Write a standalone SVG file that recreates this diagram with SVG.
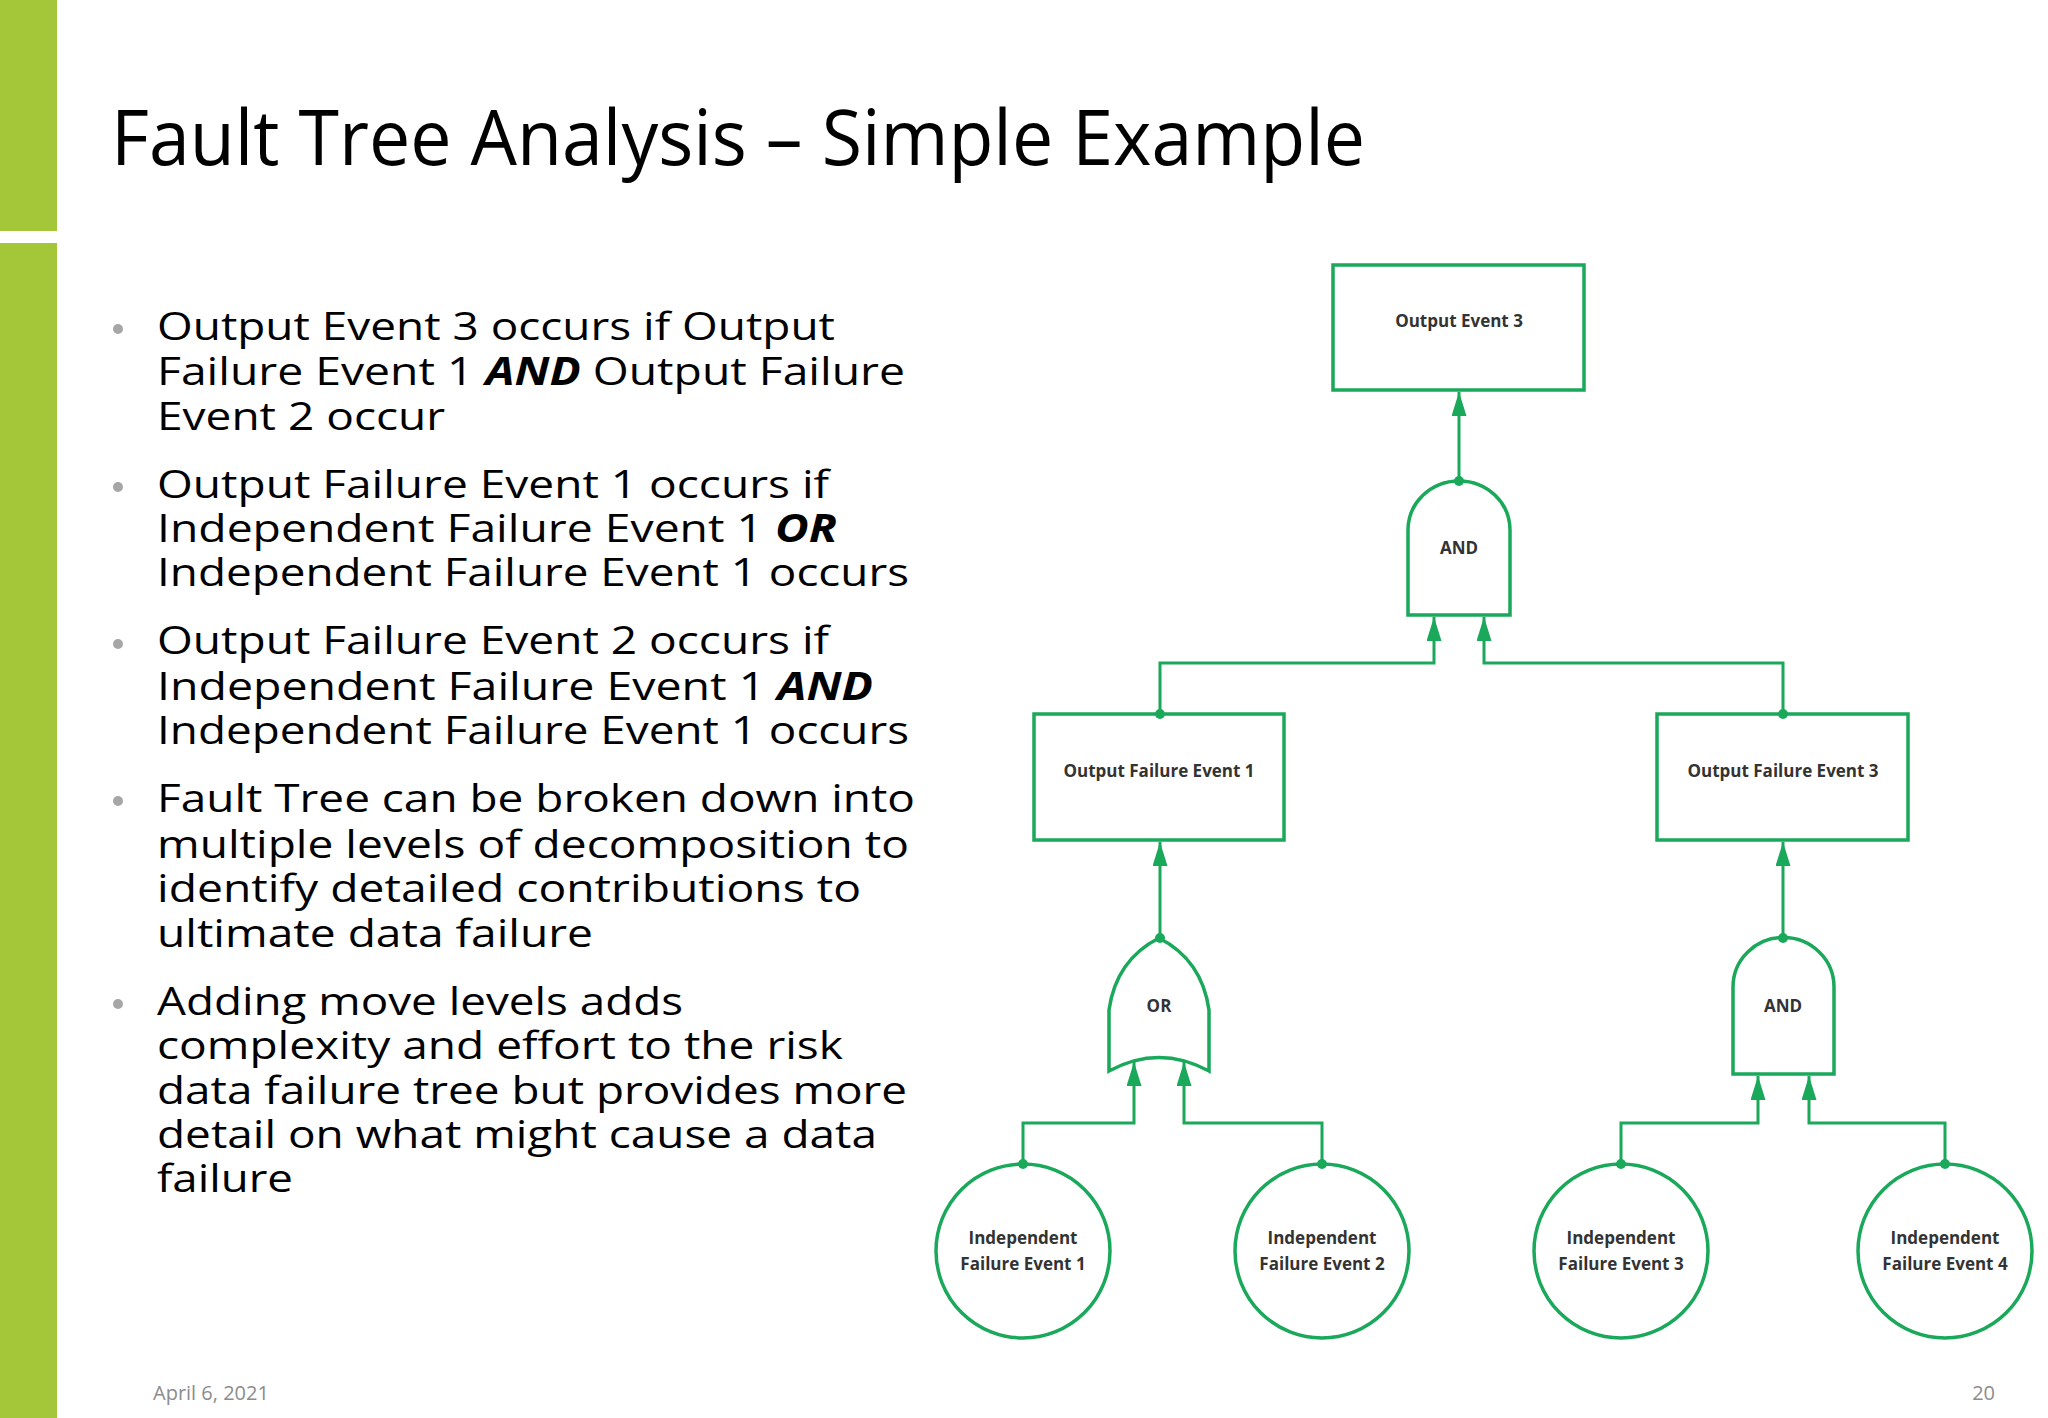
<svg xmlns="http://www.w3.org/2000/svg" width="2048" height="1418" viewBox="0 0 2048 1418">
<defs>
<style>
.b{font-family:"Open Sans","Liberation Sans",sans-serif;font-size:39px;fill:#000}
.bi{font-weight:bold;font-style:italic}
.n{font-family:"Open Sans","Liberation Sans",sans-serif;font-size:17px;font-weight:bold;fill:#333;text-anchor:middle}
.s{fill:#fff;stroke:#1aa85a;stroke-width:3.5}
.c{fill:none;stroke:#1aa85a;stroke-width:3}
.d{fill:#1aa85a}
</style>
<marker id="ah" viewBox="0 0 10 10" refX="10" refY="5" markerWidth="24" markerHeight="15" markerUnits="userSpaceOnUse" orient="auto" preserveAspectRatio="none"><path d="M0,0L10,5L0,10z" fill="#1aa85a"/></marker>
</defs>
<rect width="2048" height="1418" fill="#fff"/>
<rect x="0" y="0" width="57" height="231" fill="#a4c639"/>
<rect x="0" y="243" width="57" height="1175" fill="#a4c639"/>
<text x="111" y="165" font-family="Open Sans,Liberation Sans,sans-serif" font-size="76" textLength="1254" lengthAdjust="spacingAndGlyphs">Fault Tree Analysis – Simple Example</text>
<g fill="#a6a6a6"><circle cx="118" cy="329" r="5"/><circle cx="118" cy="487" r="5"/><circle cx="118" cy="644" r="5"/><circle cx="118" cy="801" r="5"/><circle cx="118" cy="1004" r="5"/></g>
<g class="b">
<text x="157" y="340" textLength="678" lengthAdjust="spacingAndGlyphs">Output Event 3 occurs if Output</text>
<text x="157" y="385" textLength="748" lengthAdjust="spacingAndGlyphs">Failure Event 1 <tspan class="bi">AND</tspan> Output Failure</text>
<text x="157" y="430" textLength="288" lengthAdjust="spacingAndGlyphs">Event 2 occur</text>
<text x="157" y="498" textLength="672" lengthAdjust="spacingAndGlyphs">Output Failure Event 1 occurs if</text>
<text x="157" y="542" textLength="680" lengthAdjust="spacingAndGlyphs">Independent Failure Event 1 <tspan class="bi">OR</tspan></text>
<text x="157" y="586" textLength="752" lengthAdjust="spacingAndGlyphs">Independent Failure Event 1 occurs</text>
<text x="157" y="654" textLength="672" lengthAdjust="spacingAndGlyphs">Output Failure Event 2 occurs if</text>
<text x="157" y="700" textLength="716" lengthAdjust="spacingAndGlyphs">Independent Failure Event 1 <tspan class="bi">AND</tspan></text>
<text x="157" y="744" textLength="752" lengthAdjust="spacingAndGlyphs">Independent Failure Event 1 occurs</text>
<text x="157" y="812" textLength="758" lengthAdjust="spacingAndGlyphs">Fault Tree can be broken down into</text>
<text x="157" y="858" textLength="752" lengthAdjust="spacingAndGlyphs">multiple levels of decomposition to</text>
<text x="157" y="902" textLength="704" lengthAdjust="spacingAndGlyphs">identify detailed contributions to</text>
<text x="157" y="947" textLength="436" lengthAdjust="spacingAndGlyphs">ultimate data failure</text>
<text x="157" y="1015" textLength="526" lengthAdjust="spacingAndGlyphs">Adding move levels adds</text>
<text x="157" y="1059" textLength="686" lengthAdjust="spacingAndGlyphs">complexity and effort to the risk</text>
<text x="157" y="1104" textLength="750" lengthAdjust="spacingAndGlyphs">data failure tree but provides more</text>
<text x="157" y="1148" textLength="720" lengthAdjust="spacingAndGlyphs">detail on what might cause a data</text>
<text x="157" y="1192" textLength="136" lengthAdjust="spacingAndGlyphs">failure</text>
</g>
<text x="153" y="1400" font-family="Open Sans,Liberation Sans,sans-serif" font-size="20" fill="#8c8c8c">April 6, 2021</text>
<text x="1995" y="1400" font-family="Open Sans,Liberation Sans,sans-serif" font-size="20" fill="#8c8c8c" text-anchor="end">20</text>
<g id="oe3"><rect class="s" x="1333" y="265" width="251" height="125"/><text class="n" x="1459" y="327">Output Event 3</text></g>
<g id="and1"><path class="s" d="M1408,615V530A51,49 0 0 1 1510,530V615Z"/><text class="n" x="1459" y="554">AND</text></g>
<g id="ofe1"><rect class="s" x="1034" y="714" width="250" height="126"/><text class="n" x="1159" y="777">Output Failure Event 1</text></g>
<g id="ofe3"><rect class="s" x="1657" y="714" width="251" height="126"/><text class="n" x="1783" y="777">Output Failure Event 3</text></g>
<g id="or"><path class="s" d="M1109,1071V1010Q1116,960 1159,938Q1202,960 1209,1010V1071Q1159,1044 1109,1071Z"/><text class="n" x="1159" y="1012">OR</text></g>
<g id="and2"><path class="s" d="M1733,1074V987A50,49 0 0 1 1834,987V1074Z"/><text class="n" x="1783" y="1012">AND</text></g>
<g id="ife1"><circle class="s" cx="1023" cy="1251" r="87"/><text class="n" x="1023" y="1244">Independent</text><text class="n" x="1023" y="1270">Failure Event 1</text></g>
<g id="ife2"><circle class="s" cx="1322" cy="1251" r="87"/><text class="n" x="1322" y="1244">Independent</text><text class="n" x="1322" y="1270">Failure Event 2</text></g>
<g id="ife3"><circle class="s" cx="1621" cy="1251" r="87"/><text class="n" x="1621" y="1244">Independent</text><text class="n" x="1621" y="1270">Failure Event 3</text></g>
<g id="ife4"><circle class="s" cx="1945" cy="1251" r="87"/><text class="n" x="1945" y="1244">Independent</text><text class="n" x="1945" y="1270">Failure Event 4</text></g>
<g id="connectors">
<path class="c" d="M1459,481V392" marker-end="url(#ah)"/>
<path class="c" d="M1160,714V663H1434V617" marker-end="url(#ah)"/>
<path class="c" d="M1783,714V663H1484V617" marker-end="url(#ah)"/>
<path class="c" d="M1160,938V842" marker-end="url(#ah)"/>
<path class="c" d="M1783,938V842" marker-end="url(#ah)"/>
<path class="c" d="M1023,1164V1123H1134V1062" marker-end="url(#ah)"/>
<path class="c" d="M1322,1164V1123H1184V1062" marker-end="url(#ah)"/>
<path class="c" d="M1621,1164V1123H1758V1076" marker-end="url(#ah)"/>
<path class="c" d="M1945,1164V1123H1809V1076" marker-end="url(#ah)"/>
<g class="d"><circle cx="1459" cy="481" r="5"/><circle cx="1160" cy="714" r="5"/><circle cx="1783" cy="714" r="5"/><circle cx="1160" cy="938" r="5"/><circle cx="1783" cy="938" r="5"/><circle cx="1023" cy="1164" r="5"/><circle cx="1322" cy="1164" r="5"/><circle cx="1621" cy="1164" r="5"/><circle cx="1945" cy="1164" r="5"/></g>
</g>
</svg>
